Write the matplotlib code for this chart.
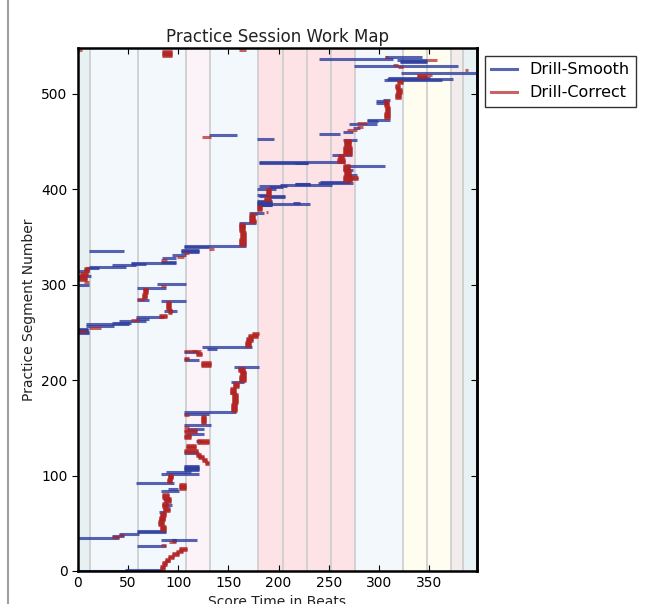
import matplotlib
matplotlib.use('Agg')
import matplotlib.pyplot as plt
from matplotlib.collections import LineCollection
from matplotlib.lines import Line2D

# score sections (beats) and their background shading
section_edges = [0, 12, 60, 108, 132, 180, 204, 228, 252, 276, 324, 348, 372, 384, 398]
section_colors = ['#e8f1f1', '#f3f8fc', '#f3f8fc', '#fbf3f7', '#f3f8fc',
                  '#fde3e6', '#fde3e6', '#fde3e6', '#fde3e6', '#f3f8fc',
                  '#fffdf0', '#fffdf0', '#f2edec', '#e8f1f3']

# runs of practice segments: (first segment, last segment, start beat, end beat)
smooth_runs = [
    (0, 0, 0, 84), (1, 1, 47, 84), (26, 26, 59, 88), (31, 33, 94, 98), (32, 32, 83, 119),
    (35, 35, 0, 41), (37, 37, 34, 46), (39, 39, 41, 61), (41, 42, 59, 88), (62, 62, 81, 88),
    (69, 69, 84, 94), (75, 75, 85, 92), (84, 84, 83, 101), (86, 86, 90, 100), (92, 92, 58, 96),
    (102, 102, 83, 121), (104, 104, 88, 113), (106, 110, 106, 121), (124, 124, 106, 121),
    (136, 136, 118, 124), (144, 144, 108, 126), (149, 149, 109, 126), (153, 153, 106, 133),
    (165, 165, 106, 131), (167, 167, 106, 158), (198, 198, 153, 166), (214, 214, 156, 181),
    (221, 221, 106, 121), (229, 229, 106, 121), (233, 233, 129, 139), (235, 235, 124, 174),
    (249, 250, 0, 11), (252, 254, 0, 10), (257, 257, 8, 36), (259, 259, 8, 51),
    (260, 260, 34, 53), (262, 262, 41, 68), (264, 264, 58, 71), (266, 266, 58, 86),
    (272, 272, 86, 99), (283, 283, 83, 108), (284, 284, 59, 71), (297, 297, 59, 88),
    (300, 300, 0, 11), (301, 301, 79, 108), (309, 309, 0, 13), (314, 314, 0, 11),
    (318, 318, 8, 21), (319, 319, 11, 48), (321, 321, 34, 58), (322, 322, 53, 68),
    (323, 323, 53, 98), (324, 324, 83, 98), (328, 328, 84, 98), (331, 331, 94, 108),
    (334, 336, 103, 121), (335, 335, 11, 46), (339, 339, 106, 131), (341, 341, 106, 168),
    (365, 365, 161, 178), (375, 375, 171, 186),
    (383, 383, 179, 194), (384, 384, 181, 194), (385, 385, 179, 231), (386, 388, 179, 194),
    (386, 386, 214, 221), (392, 392, 191, 206), (393, 393, 181, 206), (394, 394, 179, 191),
    (400, 400, 179, 198), (402, 402, 191, 204), (403, 403, 181, 208), (404, 404, 201, 253),
    (405, 406, 216, 231), (407, 407, 239, 274), (408, 408, 241, 271), (415, 415, 266, 278),
    (420, 420, 264, 274), (424, 424, 266, 306), (427, 427, 181, 229), (428, 428, 216, 229),
    (429, 429, 181, 266), (436, 436, 253, 273), (452, 452, 264, 278), (453, 453, 179, 196),
    (457, 457, 131, 159), (458, 458, 240, 261), (460, 460, 264, 274), (464, 464, 274, 281),
    (468, 468, 270, 298), (471, 471, 288, 299), (473, 473, 288, 311), (490, 490, 297, 309),
    (492, 492, 297, 308), (494, 494, 304, 311), (514, 514, 305, 363), (515, 515, 308, 374),
    (517, 517, 309, 351), (522, 522, 322, 398), (529, 529, 275, 379), (533, 534, 321, 348),
    (535, 535, 318, 348), (536, 536, 240, 314), (539, 539, 306, 343),
]

correct_runs = [
    (2, 5, 82, 87), (6, 9, 84, 89), (10, 13, 87, 92), (14, 16, 90, 96), (17, 19, 94, 101),
    (20, 21, 98, 105), (22, 24, 101, 109), (27, 27, 83, 88), (30, 30, 91, 98),
    (36, 36, 34, 41), (38, 38, 41, 46), (43, 47, 82, 88), (48, 52, 80, 86), (53, 57, 81, 87),
    (58, 61, 82, 88), (63, 66, 85, 92), (67, 71, 84, 90), (72, 76, 86, 93), (77, 81, 84, 91),
    (86, 91, 101, 108), (93, 96, 89, 94), (97, 101, 90, 95),
    (112, 114, 127, 131), (115, 117, 124, 129), (118, 120, 120, 126), (121, 123, 118, 123),
    (125, 127, 106, 120), (129, 132, 108, 118), (134, 137, 119, 131), (139, 142, 106, 113),
    (146, 148, 106, 119), (151, 151, 106, 111), (155, 162, 123, 128), (163, 163, 106, 111),
    (168, 175, 153, 159), (176, 185, 154, 160), (186, 192, 152, 158), (193, 197, 155, 161),
    (199, 204, 161, 168), (205, 209, 162, 168), (210, 213, 160, 167),
    (215, 219, 123, 133), (222, 223, 106, 111), (226, 228, 118, 124), (230, 230, 106, 119),
    (231, 231, 114, 123), (236, 240, 167, 173), (241, 244, 168, 175), (245, 247, 170, 180),
    (248, 249, 174, 181), (251, 251, 0, 8), (255, 255, 11, 23),
    (263, 263, 53, 61), (266, 268, 81, 89), (270, 274, 90, 94), (275, 282, 88, 93),
    (285, 285, 59, 66), (286, 290, 64, 69), (291, 296, 65, 70), (299, 299, 83, 88),
    (303, 303, 6, 11), (305, 308, 0, 9), (310, 312, 2, 10), (314, 317, 6, 11),
    (326, 326, 83, 89), (329, 329, 99, 106), (333, 333, 106, 111), (337, 337, 131, 136),
    (342, 348, 161, 168), (349, 355, 162, 168), (356, 364, 161, 167),
    (366, 368, 171, 178), (369, 373, 171, 177), (374, 374, 172, 179),
    (376, 376, 188, 190), (378, 382, 179, 184), (389, 391, 186, 193), (394, 400, 188, 193),
    (409, 414, 264, 273), (411, 413, 271, 279), (415, 419, 265, 272), (420, 425, 264, 271),
    (429, 432, 258, 266), (433, 436, 259, 265), (437, 444, 264, 273), (445, 452, 265, 272),
    (455, 455, 124, 133), (462, 462, 268, 278), (465, 465, 278, 284), (469, 469, 278, 288),
    (475, 480, 305, 311), (481, 486, 306, 311), (487, 492, 305, 310),
    (496, 500, 316, 322), (501, 505, 317, 323), (506, 509, 316, 321), (511, 513, 318, 324),
    (518, 520, 338, 348), (520, 520, 348, 353), (525, 525, 386, 389), (528, 528, 319, 324),
    (530, 530, 314, 319), (535, 535, 348, 358), (539, 539, 306, 309),
    (540, 545, 84, 94), (546, 546, 0, 4), (546, 546, 161, 168),
]

smooth_color = '#2e3e9e'
correct_color = '#b22222'


def run_lines(runs):
    lines = []
    for first, last, x0, x1 in runs:
        for seg in range(first, last + 1):
            lines.append([(x0, seg), (x1, seg)])
    return lines


fig = plt.figure(figsize=(6.52, 6.04), dpi=100)
ax = fig.add_axes([78 / 652, 33 / 604, 399 / 652, 523 / 604])

for left, right, c in zip(section_edges[:-1], section_edges[1:], section_colors):
    ax.axvspan(left, right, color=c, lw=0, zorder=0)
for edge in section_edges[1:-1]:
    ax.axvline(edge, color='#cccccc', lw=1.2, zorder=0.5)

ax.add_collection(LineCollection(run_lines(smooth_runs), colors=smooth_color,
                                 alpha=0.8, lw=2.2, capstyle='butt', zorder=2))
ax.add_collection(LineCollection(run_lines(correct_runs), colors=correct_color,
                                 alpha=0.7, lw=2.2, capstyle='butt', zorder=2))

ax.set_xlim(0, 398)
ax.set_ylim(0, 548)
ax.set_xticks(range(0, 351, 50))
ax.set_yticks(range(0, 501, 100))
ax.tick_params(axis='x', direction='in', top=True, length=4, labelsize=10)
ax.tick_params(axis='y', direction='out', length=4, labelsize=10)
right_axis = ax.secondary_yaxis('right')
right_axis.set_yticks(range(0, 501, 100))
right_axis.tick_params(direction='in', length=4, labelright=False)
for sp in ax.spines.values():
    sp.set_linewidth(1.8)
right_axis.spines['right'].set_linewidth(1.8)

ax.set_title('Practice Session Work Map', fontsize=12, pad=4, color='#222222')
ax.set_xlabel('Score Time in Beats', fontsize=10, color='#222222')
ax.set_ylabel('Practice Segment Number', fontsize=10, color='#222222')

handles = [Line2D([], [], color=smooth_color, alpha=0.8, lw=2.2),
           Line2D([], [], color=correct_color, alpha=0.7, lw=2.2)]
leg = ax.legend(handles, ['Drill-Smooth', 'Drill-Correct'], loc='upper left',
                bbox_to_anchor=(485 / 652, 1 - 56 / 604), bbox_transform=fig.transFigure,
                borderaxespad=0, fancybox=False, fontsize=11.5, handlelength=1.6,
                framealpha=1, edgecolor='#333333')
leg.get_frame().set_linewidth(1.0)

fig.add_artist(Line2D([8 / 652, 8 / 652], [0, 1], color='#a0a0a0', lw=1.5))

fig.savefig('out.png', dpi=100)
